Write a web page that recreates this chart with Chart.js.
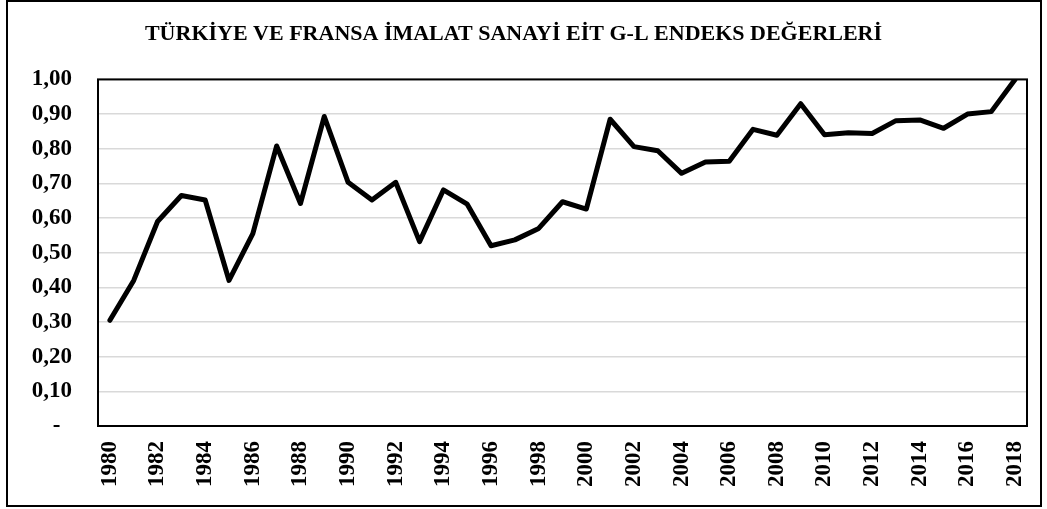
<!DOCTYPE html>
<html lang="tr">

<head>
    <meta charset="UTF-8">
    <script src="https://cdn.jsdelivr.net/npm/chart.js@4/dist/chart.umd.min.js"></script>
    <title>EİT G-L Endeks</title>
</head>

<body style="margin: 0; background: #fff;">
    <canvas id="myChart" width="1047" height="509"></canvas>
    <script>
        const years = [];
        for (let y = 1980; y <= 2018; y++) years.push(String(y));

        const glIndex = [
            0.305, 0.42, 0.59, 0.665, 0.652, 0.42, 0.555, 0.808, 0.642, 0.893,
            0.703, 0.652, 0.703, 0.532, 0.681, 0.64, 0.52, 0.537, 0.57, 0.647,
            0.626, 0.885, 0.806, 0.794, 0.729, 0.762, 0.764, 0.856, 0.839, 0.93,
            0.84, 0.846, 0.844, 0.881, 0.883, 0.859, 0.9, 0.907, 1.0
        ];

        const titleText = 'TÜRKİYE VE FRANSA İMALAT SANAYİ EİT G-L ENDEKS DEĞERLERİ';
        const serif = "'Liberation Serif', 'Times New Roman', serif";

        // outer frame + box around the plot area
        const frames = {
            id: 'frames',
            beforeDraw(chart) {
                const c = chart.ctx;
                c.save();
                c.fillStyle = '#fff';
                c.fillRect(0, 0, chart.width, chart.height);
                c.strokeStyle = '#000';
                c.lineWidth = 2;
                c.strokeRect(7, 1, 1034, 505);
                c.restore();
            },
            beforeDatasetsDraw(chart) {
                const a = chart.chartArea;
                const c = chart.ctx;
                c.save();
                c.strokeStyle = '#000';
                c.lineWidth = 2;
                c.strokeRect(a.left, a.top, a.right - a.left, a.bottom - a.top);
                c.restore();
            }
        };

        const ctx = document.getElementById('myChart').getContext('2d');
        new Chart(ctx, {
            type: 'line',
            data: {
                labels: years,
                datasets: [{
                    label: 'G-L',
                    data: glIndex,
                    borderColor: '#000',
                    borderWidth: 5,
                    borderJoinStyle: 'round',
                    borderCapStyle: 'round',
                    pointRadius: 0,
                    tension: 0,
                    fill: false
                }]
            },
            options: {
                responsive: false,
                animation: false,
                layout: { padding: { left: 0, right: 20, top: 0, bottom: 0 } },
                plugins: {
                    legend: { display: false },
                    tooltip: { enabled: false },
                    title: {
                        display: true,
                        text: titleText,
                        color: '#000',
                        font: { family: serif, size: 22, weight: 'bold', lineHeight: 1.2 },
                        padding: { top: 21, bottom: 32 }
                    }
                },
                scales: {
                    x: {
                        offset: true,
                        grid: { display: false, drawTicks: false },
                        border: { display: false },
                        afterFit(scale) {
                            scale.height = 83;
                            scale.paddingLeft = 0;
                            scale.paddingRight = 0;
                        },
                        ticks: {
                            autoSkip: false,
                            maxRotation: 90,
                            minRotation: 90,
                            padding: 15,
                            color: '#000',
                            font: { family: serif, size: 23, weight: 'bold' },
                            callback(val, i) { return i % 2 === 0 ? years[i] : ''; }
                        }
                    },
                    y: {
                        min: 0,
                        max: 1,
                        grid: { color: '#d9d9d9', lineWidth: 1.5, drawTicks: false },
                        border: { display: false },
                        afterFit(scale) { scale.width = 98; },
                        ticks: {
                            stepSize: 0.1,
                            padding: 26,
                            color: '#000',
                            font: { family: serif, size: 23, weight: 'bold' },
                            callback(v) { return v === 0 ? '-  ' : v.toFixed(2).replace('.', ','); }
                        }
                    }
                }
            },
            plugins: [frames]
        });
    </script>
</body>

</html>
